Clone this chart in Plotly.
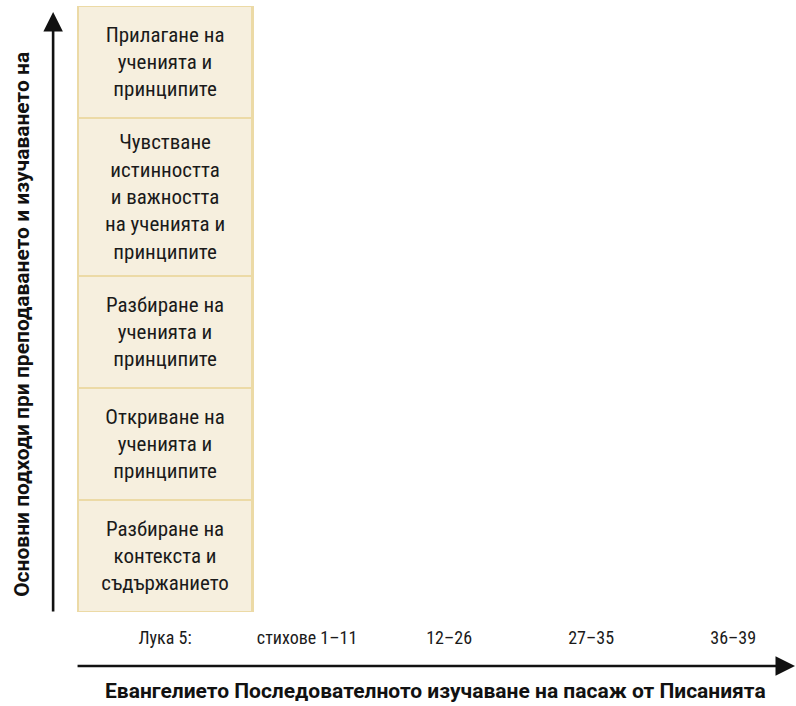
import plotly.graph_objects as go

# Data
x_labels = ["Лука 5:", "стихове 1–11", "12–26", "27–35", "36–39"]
stages = [
    "Разбиране на<br>контекста и<br>съдържанието",
    "Откриване на<br>ученията и<br>принципите",
    "Разбиране на<br>ученията и<br>принципите",
    "Чувстване<br>истинността<br>и важността<br>на ученията и<br>принципите",
    "Прилагане на<br>ученията и<br>принципите",
]
stage_heights = [1.0, 1.0, 1.0, 1.41, 1.0]
y_title = "Основни подходи при преподаването и изучаването на"
x_title = "Евангелието Последователното изучаване на пасаж от Писанията"

FONT = "Roboto Condensed, DejaVu Sans Condensed, sans-serif"
TITLE_FONT = "Roboto, DejaVu Sans, sans-serif"
FILL = "#f6efde"
EDGE = "#ecdaa6"

fig = go.Figure()
for label, h in zip(stages, stage_heights):
    fig.add_trace(go.Bar(
        x=[x_labels[0]], y=[h], text=[label],
        width=1.23,
        textposition="inside", insidetextanchor="middle",
        textangle=0,
        insidetextfont=dict(family=FONT, size=21, color="#1a1a1a"),
        marker=dict(color=FILL, line=dict(color=EDGE, width=2.5)),
        hoverinfo="skip", showlegend=False,
    ))

total = sum(stage_heights)
fig.update_layout(
    width=796, height=706,
    margin=dict(l=77, r=6, t=6, b=94),
    barmode="stack",
    plot_bgcolor="white", paper_bgcolor="white",
    font=dict(family=FONT, color="#1a1a1a"),
    xaxis=dict(
        type="category", categoryorder="array", categoryarray=x_labels,
        range=[-0.62, 4.4], showgrid=False, zeroline=False, showline=False,
        ticks="outside", ticklen=9, tickcolor="rgba(0,0,0,0)",
        tickfont=dict(family=FONT, size=18, color="#1a1a1a"),
        fixedrange=True,
    ),
    yaxis=dict(
        range=[0, total], showgrid=False, zeroline=False, showline=False,
        showticklabels=False, fixedrange=True,
    ),
    annotations=[
        # vertical arrow
        dict(xref="paper", yref="paper", x=-0.0335, y=0.99, ax=0, ay=601,
             axref="pixel", ayref="pixel", showarrow=True, arrowhead=2,
             arrowsize=1.5, arrowwidth=2.6, arrowcolor="#111111", text=""),
        # horizontal arrow
        dict(xref="paper", yref="paper", x=1.0085, y=-0.089, ax=-720, ay=0,
             axref="pixel", ayref="pixel", showarrow=True, arrowhead=2,
             arrowsize=1.5, arrowwidth=2.6, arrowcolor="#111111", text=""),
        dict(xref="paper", yref="paper", x=-0.077, y=0.474, text=y_title,
             textangle=-90, showarrow=False, xanchor="center", yanchor="middle",
             font=dict(family=TITLE_FONT, size=21, color="#111111", weight="bold")),
        dict(xref="paper", yref="paper", x=0.503, y=-0.131, text=x_title,
             showarrow=False, xanchor="center", yanchor="middle",
             font=dict(family=TITLE_FONT, size=21, color="#111111", weight="bold")),
    ],
)

fig.write_html("out.html", config={"displayModeBar": False},
               post_script="document.body.style.margin='0';")
